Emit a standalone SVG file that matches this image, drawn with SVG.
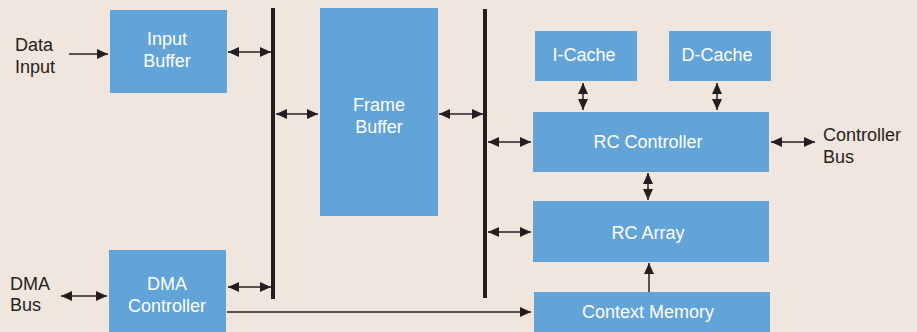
<svg xmlns="http://www.w3.org/2000/svg" width="917" height="332" viewBox="0 0 917 332">
<defs>
<marker id="ah" markerUnits="userSpaceOnUse" markerWidth="11" markerHeight="10" refX="11" refY="5" orient="auto-start-reverse" viewBox="0 0 11 10">
<path d="M0,0 L11,5 L0,10 z" fill="#231F20"/>
</marker>
<style>
.box{fill:#62A3D8}
.bt{fill:#FFFFFF;font-family:"Liberation Sans",Arial,sans-serif;font-size:18px;text-anchor:middle}
.ot{fill:#231F20;font-family:"Liberation Sans",Arial,sans-serif;font-size:18px}
.c{stroke:#231F20;stroke-width:1.5;fill:none}
.bi{marker-start:url(#ah);marker-end:url(#ah)}
.uni{marker-end:url(#ah)}
.bus{stroke:#231F20;stroke-width:4}
</style>
</defs>
<rect width="917" height="332" fill="#F1E6DD"/>

<g id="data-input"><text class="ot" x="15" y="51">Data</text><text class="ot" x="15" y="73">Input</text></g>
<g id="dma-bus"><text class="ot" x="10" y="290">DMA</text><text class="ot" x="10" y="311">Bus</text></g>
<g id="controller-bus"><text class="ot" x="823" y="141">Controller</text><text class="ot" x="823" y="163">Bus</text></g>

<g id="input-buffer"><rect class="box" x="110" y="10" width="117" height="83"/><text class="bt" x="167" y="45">Input</text><text class="bt" x="167" y="67">Buffer</text></g>
<g id="dma-controller"><rect class="box" x="109" y="250" width="117" height="82"/><text class="bt" x="167" y="290">DMA</text><text class="bt" x="167" y="312">Controller</text></g>
<g id="frame-buffer"><rect class="box" x="320" y="8" width="118" height="208"/><text class="bt" x="379" y="111">Frame</text><text class="bt" x="379" y="133">Buffer</text></g>
<g id="i-cache"><rect class="box" x="535" y="31" width="102" height="50"/><text class="bt" x="584" y="61">I-Cache</text></g>
<g id="d-cache"><rect class="box" x="669" y="31" width="102" height="50"/><text class="bt" x="717" y="61">D-Cache</text></g>
<g id="rc-controller"><rect class="box" x="533" y="112" width="236" height="60"/><text class="bt" x="648" y="148">RC Controller</text></g>
<g id="rc-array"><rect class="box" x="533" y="201" width="236" height="61"/><text class="bt" x="648" y="239">RC Array</text></g>
<g id="context-memory"><rect class="box" x="534" y="292" width="236" height="40"/><text class="bt" x="648" y="318">Context Memory</text></g>

<g id="connectors">
<line class="bus" x1="273" y1="8" x2="273" y2="299"/>
<line class="bus" x1="485" y1="9" x2="485" y2="298"/>
<line class="c uni" x1="69" y1="54" x2="108" y2="54"/>
<line class="c bi" x1="228" y1="52" x2="271" y2="52"/>
<line class="c bi" x1="61" y1="296" x2="107" y2="296"/>
<line class="c bi" x1="228" y1="287" x2="271" y2="287"/>
<line class="c bi" x1="276" y1="114" x2="318" y2="114"/>
<line class="c bi" x1="439" y1="114" x2="483" y2="114"/>
<line class="c bi" x1="488" y1="142" x2="531" y2="142"/>
<line class="c bi" x1="488" y1="232" x2="531" y2="232"/>
<line class="c bi" x1="771" y1="142" x2="815" y2="142"/>
<line class="c bi" x1="583" y1="83" x2="583" y2="110"/>
<line class="c bi" x1="717" y1="83" x2="717" y2="110"/>
<line class="c bi" x1="648" y1="173" x2="648" y2="200"/>
<line class="c uni" x1="649" y1="292" x2="649" y2="263"/>
<polyline class="c uni" points="227,312 531,312"/>
</g>
</svg>
